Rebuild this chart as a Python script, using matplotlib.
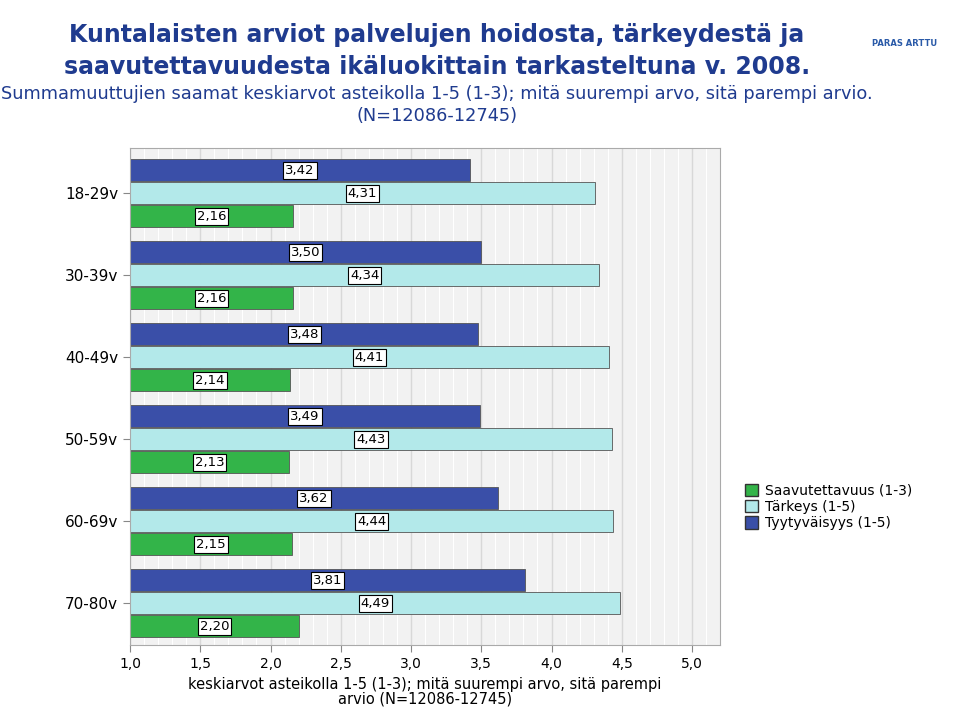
import matplotlib
matplotlib.use("Agg")
import matplotlib.pyplot as plt
from matplotlib.patches import Patch

categories = ["18-29v", "30-39v", "40-49v", "50-59v", "60-69v", "70-80v"]
tyytyvaisyys = [3.42, 3.50, 3.48, 3.49, 3.62, 3.81]
tarkeys = [4.31, 4.34, 4.41, 4.43, 4.44, 4.49]
saavutettavuus = [2.16, 2.16, 2.14, 2.13, 2.15, 2.20]
xticks = [1.0, 1.5, 2.0, 2.5, 3.0, 3.5, 4.0, 4.5, 5.0]

c_blue, c_cyan, c_green = "#3a4fa8", "#b3e9ea", "#33b449"

fig = plt.figure(figsize=(9.6, 7.07), dpi=100)
ax = fig.add_axes([130/960, 1-645/707, 590/960, 497/707])
ax.set_facecolor("#f2f2f2")
ax.set_xlim(1.0, 1.0 + 590/140.5)
ax.set_ylim(5.51, -0.55)
for g in [1 + 0.1*k for k in range(1, 42)]:
    ax.axvline(g, color="white", lw=0.8, zorder=0)
for g in xticks:
    ax.axvline(g, color="#d8d8d8", lw=1, zorder=0)

h = 0.275
series = [(tyytyvaisyys, c_blue, -0.28), (tarkeys, c_cyan, 0.0), (saavutettavuus, c_green, 0.28)]
for vals, col, off in series:
    for i, v in enumerate(vals):
        ax.barh(i + off, v - 1.0, left=1.0, height=h, color=col, edgecolor="#555555", lw=0.6, zorder=2)
        ax.text(1.0 + (v - 1.0)/2, i + off, f"{v:.2f}".replace(".", ","), ha="center", va="center",
                fontsize=9.5, zorder=3,
                bbox=dict(boxstyle="square,pad=0.15", fc="white", ec="black", lw=0.8))

ax.set_yticks(range(len(categories)))
ax.set_yticklabels(categories, fontsize=11)
ax.set_xticks(xticks)
ax.set_xticklabels([f"{t:.1f}".replace(".", ",") for t in xticks], fontsize=10)
for s in ax.spines.values():
    s.set_color("#aaaaaa")
ax.tick_params(length=5, color="#888888")

fig.text(425/960, 1-692/707, "keskiarvot asteikolla 1-5 (1-3); mitä suurempi arvo, sitä parempi\narvio (N=12086-12745)",
         ha="center", va="center", fontsize=10.5, linespacing=1.0)

tc = "#1f3b8f"
fig.text(437/960, 1-35/707, "Kuntalaisten arviot palvelujen hoidosta, tärkeydestä ja", ha="center", va="center",
         fontsize=17, fontweight="bold", color=tc)
fig.text(437/960, 1-67/707, "saavutettavuudesta ikäluokittain tarkasteltuna v. 2008.", ha="center", va="center",
         fontsize=17, fontweight="bold", color=tc)
fig.text(437/960, 1-94/707, "Summamuuttujien saamat keskiarvot asteikolla 1-5 (1-3); mitä suurempi arvo, sitä parempi arvio.",
         ha="center", va="center", fontsize=12.8, color=tc)
fig.text(437/960, 1-116/707, "(N=12086-12745)", ha="center", va="center", fontsize=12.8, color=tc)
fig.text(905/960, 1-44/707, "PARAS ARTTU", ha="center", va="center", fontsize=6, fontweight="bold", color="#2a5aa8")

handles = [Patch(fc=c_green, ec="#333333", label="Saavutettavuus (1-3)"),
           Patch(fc=c_cyan, ec="#333333", label="Tärkeys (1-5)"),
           Patch(fc=c_blue, ec="#333333", label="Tyytyväisyys (1-5)")]
fig.legend(handles=handles, loc="center left", bbox_to_anchor=(732/960, 1-507/707), frameon=False,
           fontsize=10, handlelength=1.0, handleheight=1.0, labelspacing=0.15, handletextpad=0.5)

fig.savefig("out.png", dpi=100)
